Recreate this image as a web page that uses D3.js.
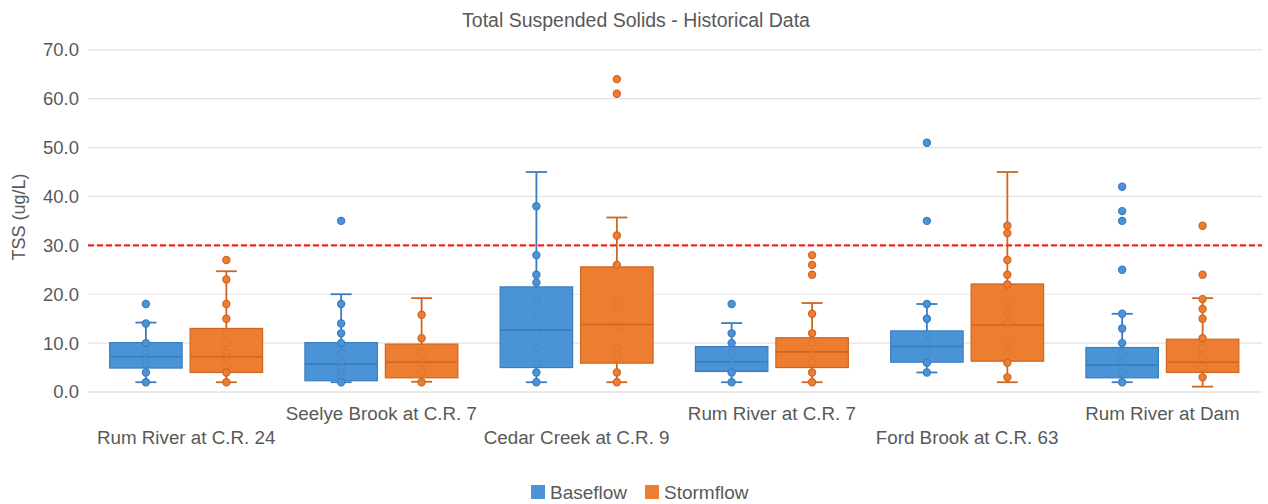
<!DOCTYPE html>
<html>
<head>
<meta charset="utf-8">
<script src="https://cdn.jsdelivr.net/npm/d3@7"></script>
<style>
  html, body { margin: 0; padding: 0; background: #fff; }
  svg { display: block; font-family: "Liberation Sans", Arial, sans-serif; }
</style>
</head>
<body>
<svg id="chart" width="1268" height="504"></svg>
<script>
// Sampling sites along the x axis
const categories = [
  "Rum River at C.R. 24",
  "Seelye Brook at C.R. 7",
  "Cedar Creek at C.R. 9",
  "Rum River at C.R. 7",
  "Ford Brook at C.R. 63",
  "Rum River at Dam"
];
const seriesNames = ["Baseflow", "Stormflow"];

// Box summaries per site (TSS, ug/L)
const baseLow    = [2.0, 2.0, 2.0, 2.0, 4.0, 2.0];
const baseQ1     = [4.9, 2.3, 5.0, 4.2, 6.1, 2.9];
const baseMedian = [7.2, 5.7, 12.7, 6.2, 9.3, 5.5];
const baseQ3     = [10.1, 10.1, 21.5, 9.3, 12.5, 9.1];
const baseHigh   = [14.2, 20.0, 45.0, 14.1, 18.0, 16.0];

const stormLow    = [2.0, 2.1, 2.0, 2.0, 2.0, 1.1];
const stormQ1     = [4.0, 2.9, 5.9, 5.0, 6.3, 4.0];
const stormMedian = [7.2, 6.1, 13.8, 8.2, 13.7, 6.1];
const stormQ3     = [13.0, 9.8, 25.6, 11.1, 22.1, 10.8];
const stormHigh   = [24.7, 19.2, 35.7, 18.2, 45.0, 19.2];

// Individual samples per site
const basePoints = [
  [18, 14, 10, 8, 7, 6, 4, 2],
  [35, 18, 14, 12, 10, 8, 6, 5, 4, 3, 2],
  [38, 28, 24, 22.4, 19, 16, 12, 9, 6, 4, 2],
  [18, 12, 10, 8, 6, 4, 2],
  [51, 35, 18, 15, 12, 10, 8, 6, 4],
  [42, 37, 35, 25, 16, 13, 10, 8, 6, 4, 2]
];
const stormPoints = [
  [27, 23, 18, 15, 12, 10, 8, 7, 5, 4, 2],
  [15.8, 11, 8, 6, 4, 2],
  [64, 61, 32, 26, 18, 13.5, 9, 7, 4, 2],
  [28, 26, 24, 16, 12, 10, 8, 6, 4, 2],
  [34, 32.5, 27, 24, 22, 18, 16, 14, 10, 8, 6, 3],
  [34, 24, 19, 17, 15, 11, 9, 7, 5, 3]
];

const yTicks = [0, 10, 20, 30, 40, 50, 60, 70];
const threshold = 30;

const colors = {
  Baseflow:  { fill: "#4a93d6", stroke: "#3a7cc0" },
  Stormflow: { fill: "#ed7d31", stroke: "#cf661f" }
};

const svg = d3.select("#chart");

const x = d3.scaleBand().domain(categories).range([88.5, 1260]).paddingInner(0).paddingOuter(0);
const xs = d3.scaleBand().domain(seriesNames).range([0, x.bandwidth()]).paddingInner(0.0994).paddingOuter(0.263);
const y = d3.scaleLinear().domain([0, 70]).range([392, 49.8]);

const textColor = "#595959";

// Title
svg.append("text")
  .attr("x", 636).attr("y", 27)
  .attr("text-anchor", "middle")
  .attr("font-size", 19.5)
  .attr("fill", "#595959")
  .text("Total Suspended Solids - Historical Data");

// Horizontal gridlines
svg.append("g").selectAll("line").data(yTicks).join("line")
  .attr("x1", 88).attr("x2", 1262)
  .attr("y1", d => y(d)).attr("y2", d => y(d))
  .attr("stroke", d => d === 0 ? "#d4d4d4" : "#e3e3e3")
  .attr("stroke-width", 1.2);

// Y axis tick labels
const yAxis = d3.axisLeft(y).tickValues(yTicks).tickFormat(d3.format(".1f")).tickSize(0).tickPadding(0);
const gy = svg.append("g").attr("transform", "translate(79,0)").call(yAxis);
gy.select(".domain").remove();
gy.selectAll("text").attr("font-size", 18.5).attr("fill", textColor)
  .attr("font-family", "Liberation Sans, Arial, sans-serif");

// Y axis title
svg.append("text")
  .attr("transform", "translate(25,217) rotate(-90)")
  .attr("text-anchor", "middle")
  .attr("font-size", 18)
  .attr("fill", textColor)
  .text("TSS (ug/L)");

// X axis labels, staggered on two rows
svg.append("g").selectAll("text").data(categories).join("text")
  .attr("x", d => x(d) + x.bandwidth() / 2)
  .attr("y", (d, i) => i % 2 === 0 ? 444 : 420)
  .attr("text-anchor", "middle")
  .attr("font-size", 18.8)
  .attr("fill", textColor)
  .text(d => d);

// Assemble per-series records for drawing
const stats = {
  Baseflow: categories.map((c, i) => ({
    cat: c, low: baseLow[i], q1: baseQ1[i], med: baseMedian[i], q3: baseQ3[i], high: baseHigh[i], pts: basePoints[i]
  })),
  Stormflow: categories.map((c, i) => ({
    cat: c, low: stormLow[i], q1: stormQ1[i], med: stormMedian[i], q3: stormQ3[i], high: stormHigh[i], pts: stormPoints[i]
  }))
};

const capHalf = 10.5;

seriesNames.forEach(s => {
  const col = colors[s];
  const g = svg.append("g");
  stats[s].forEach(d => {
    const x0 = x(d.cat) + xs(s);
    const w = xs.bandwidth();
    const cx = x0 + w / 2;
    const bg = g.append("g");
    // whiskers
    bg.append("line").attr("x1", cx).attr("x2", cx).attr("y1", y(d.q3)).attr("y2", y(d.high))
      .attr("stroke", col.stroke).attr("stroke-width", 1.8);
    bg.append("line").attr("x1", cx).attr("x2", cx).attr("y1", y(d.q1)).attr("y2", y(d.low))
      .attr("stroke", col.stroke).attr("stroke-width", 1.8);
    [d.high, d.low].forEach(v => {
      bg.append("line").attr("x1", cx - capHalf).attr("x2", cx + capHalf).attr("y1", y(v)).attr("y2", y(v))
        .attr("stroke", col.stroke).attr("stroke-width", 1.8);
    });
    // box
    bg.append("rect")
      .attr("x", x0).attr("width", w)
      .attr("y", y(d.q3)).attr("height", y(d.q1) - y(d.q3))
      .attr("fill", col.fill).attr("stroke", col.stroke).attr("stroke-width", 1.2);
    // median
    bg.append("line").attr("x1", x0).attr("x2", x0 + w).attr("y1", y(d.med)).attr("y2", y(d.med))
      .attr("stroke", col.stroke).attr("stroke-width", 1.6);
    // samples: those inside the box are drawn faintly
    bg.selectAll("circle").data(d.pts).join("circle")
      .attr("cx", cx).attr("cy", v => y(v)).attr("r", 3.6)
      .attr("fill", col.fill).attr("stroke", col.stroke).attr("stroke-width", 1.2)
      .attr("opacity", v => (v > d.q1 + 0.3 && v < d.q3 - 0.3) ? 0.28 : 1);
  });
});

// Threshold line
svg.append("line")
  .attr("x1", 88).attr("x2", 1262)
  .attr("y1", y(threshold)).attr("y2", y(threshold))
  .attr("stroke", "#f0262a").attr("stroke-width", 2.2)
  .attr("stroke-dasharray", "6,3");

// Legend
const legend = svg.append("g");
const legendItems = [{ name: "Baseflow", x: 531 }, { name: "Stormflow", x: 645 }];
legend.selectAll("rect").data(legendItems).join("rect")
  .attr("x", d => d.x).attr("y", 485).attr("width", 14).attr("height", 14)
  .attr("fill", d => colors[d.name].fill);
legend.selectAll("text").data(legendItems).join("text")
  .attr("x", d => d.x + 19).attr("y", 499)
  .attr("font-size", 19).attr("fill", textColor)
  .text(d => d.name);
</script>
</body>
</html>
